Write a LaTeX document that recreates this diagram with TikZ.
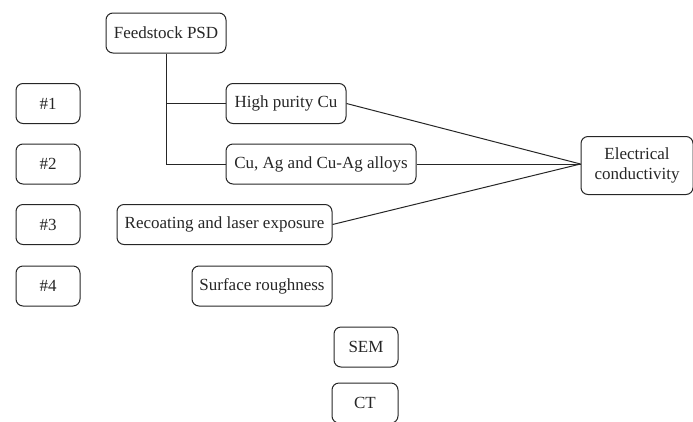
\documentclass[tikz,border=0pt]{standalone}
\usepackage{fontspec}
\setmainfont{Liberation Serif}
\usetikzlibrary{positioning, calc}
\definecolor{ink}{HTML}{262626}
\tikzset{
  blk/.style={draw=ink, rounded corners=7pt, align=center, text=ink,
              font=\fontsize{17}{20.5}\selectfont, minimum height=40pt,
              inner sep=2pt, line width=1pt},
  tag/.style={blk, minimum width=64pt},
  lnk/.style={line width=1pt, draw=ink},
}

\begin{document}
\begin{tikzpicture}[x=1pt, y=-1pt]
    \useasboundingbox (0,0) rectangle (693,421);
    \clip (0,0) rectangle (693,421);
    % sample tags
    \node[tag] (s1) at (48,103.5) {\#1};
    \node[tag] (s2) at (48,164)   {\#2};
    \node[tag] (s3) at (48,224.5) {\#3};
    \node[tag] (s4) at (48,286)   {\#4};
    % factors
    \node[blk, minimum width=120pt] (feed)   at (166,33)    {Feedstock PSD};
    \node[blk, minimum width=120pt] (pure)   at (286,103.5) {High purity Cu};
    \node[blk, minimum width=190pt] (alloy)  at (321,164)   {Cu, Ag and Cu-Ag alloys};
    \node[blk, minimum width=215pt] (recoat) at (224.5,224.5) {Recoating and laser exposure};
    \node[blk, minimum width=140pt] (rough)  at (262,286)   {Surface roughness};
    % methods
    \node[blk, minimum width=64pt]  (sem)    at (366,347)   {SEM};
    \node[blk, minimum width=66pt]  (ct)     at (365,403)   {CT};
    % property
    \node[blk, minimum width=112pt, minimum height=58pt] (elec) at (637,165.5) {Electrical\\conductivity};

    \coordinate (fork) at (feed.south |- pure.west);
    \coordinate (join) at (elec.west |- alloy.east);
    \draw[lnk] (feed.south) |- (alloy.west);
    \draw[lnk] (fork) -- (pure.west);
    \draw[lnk] (pure.east) -- (join);
    \draw[lnk] (alloy.east) -- (join);
    \draw[lnk] (recoat.east) -- (join);
\end{tikzpicture}
\end{document}
